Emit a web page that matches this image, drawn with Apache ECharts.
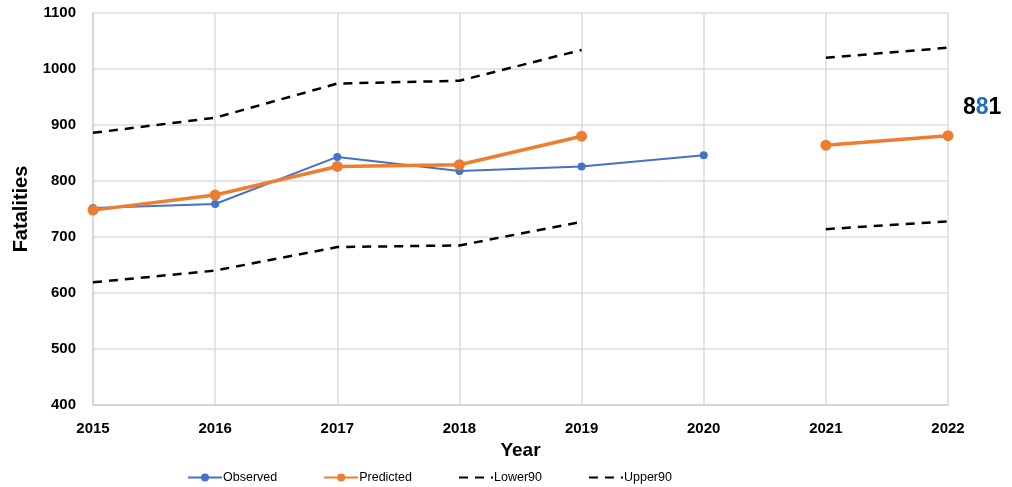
<!DOCTYPE html>
<html>
<head>
<meta charset="utf-8">
<script src="https://cdn.jsdelivr.net/npm/echarts@6/dist/echarts.min.js"></script>
<style>
html, body { margin: 0; padding: 0; background: #fff; }
#container { width: 1012px; height: 487px; }
</style>
</head>
<body>
<div id="container"></div>
<script>
var years = ['2015', '2016', '2017', '2018', '2019', '2020', '2021', '2022'];
var observed = [752, 759, 843, 818, 826, 846, null, null];
var predicted = [748, 775, 826, 829, 880, null, 864, 881];
var lower90 = [619, 640, 682, 685, 727, null, 714, 728];
var upper90 = [886, 913, 974, 979, 1034, null, 1020, 1038];
var lastValue = '881';

var boldFont = 'Liberation Sans, Arial, sans-serif';
var myChart = echarts.init(document.getElementById('container'));
var option = {
    animation: false,
    grid: {
        left: 93,
        right: 64,
        top: 13,
        bottom: 82
    },
    legend: {
        left: 182,
        top: 466,
        itemWidth: 34,
        itemHeight: 10,
        itemGap: 46,
        textStyle: {
            fontFamily: boldFont,
            fontSize: 12.5,
            color: '#000',
            padding: [0, 0, 0, -4]
        },
        data: [
            'Observed',
            'Predicted',
            { name: 'Lower90', itemStyle: { opacity: 0 } },
            { name: 'Upper90', itemStyle: { opacity: 0 } }
        ]
    },
    xAxis: {
        type: 'category',
        data: years,
        boundaryGap: false,
        name: 'Year',
        nameLocation: 'middle',
        nameGap: 32,
        nameTextStyle: {
            fontFamily: boldFont,
            fontWeight: 'bold',
            fontSize: 19,
            color: '#000'
        },
        axisLine: { lineStyle: { color: '#d0d0d0', width: 1.5 } },
        axisTick: { show: false },
        axisLabel: {
            fontFamily: boldFont,
            fontWeight: 'bold',
            fontSize: 15,
            color: '#000',
            margin: 16
        },
        splitLine: { show: true, lineStyle: { color: '#dcdcdc', width: 1.5 } }
    },
    yAxis: {
        type: 'value',
        min: 400,
        max: 1100,
        interval: 100,
        name: 'Fatalities',
        nameLocation: 'middle',
        nameGap: 60,
        nameTextStyle: {
            fontFamily: boldFont,
            fontWeight: 'bold',
            fontSize: 20,
            color: '#000'
        },
        axisLine: { show: true, lineStyle: { color: '#d0d0d0', width: 1.5 } },
        axisTick: { show: false },
        axisLabel: {
            fontFamily: boldFont,
            fontWeight: 'bold',
            fontSize: 15,
            color: '#000',
            margin: 17,
            formatter: function (value) {
                return String(value);
            }
        },
        splitLine: { lineStyle: { color: '#dcdcdc', width: 1.5 } }
    },
    series: [{
        name: 'Observed',
        type: 'line',
        data: observed,
        symbol: 'circle',
        symbolSize: 8,
        itemStyle: { color: '#4472c4' },
        lineStyle: { color: '#4472c4', width: 2 },
        z: 3
    }, {
        name: 'Predicted',
        type: 'line',
        data: predicted,
        symbol: 'circle',
        symbolSize: 11,
        itemStyle: { color: '#ed7d31' },
        lineStyle: { color: '#ed7d31', width: 3.5 },
        z: 4
    }, {
        name: 'Lower90',
        type: 'line',
        data: lower90,
        symbol: 'none',
        itemStyle: { color: '#000' },
        lineStyle: { color: '#000', width: 2.5, type: [9, 7] }
    }, {
        name: 'Upper90',
        type: 'line',
        data: upper90,
        symbol: 'none',
        itemStyle: { color: '#000' },
        lineStyle: { color: '#000', width: 2.5, type: [9, 7] }
    }],
    graphic: [{
        type: 'text',
        left: 963,
        top: 96,
        style: {
            text: '{a|' + lastValue[0] + '}{b|' + lastValue[1] + '}{a|' + lastValue[2] + '}',
            rich: {
                a: { fontFamily: boldFont, fontWeight: 'bold', fontSize: 23, fill: '#000' },
                b: { fontFamily: boldFont, fontWeight: 'bold', fontSize: 23, fill: '#1f6db5' }
            }
        }
    }]
};
myChart.setOption(option);
</script>
</body>
</html>
